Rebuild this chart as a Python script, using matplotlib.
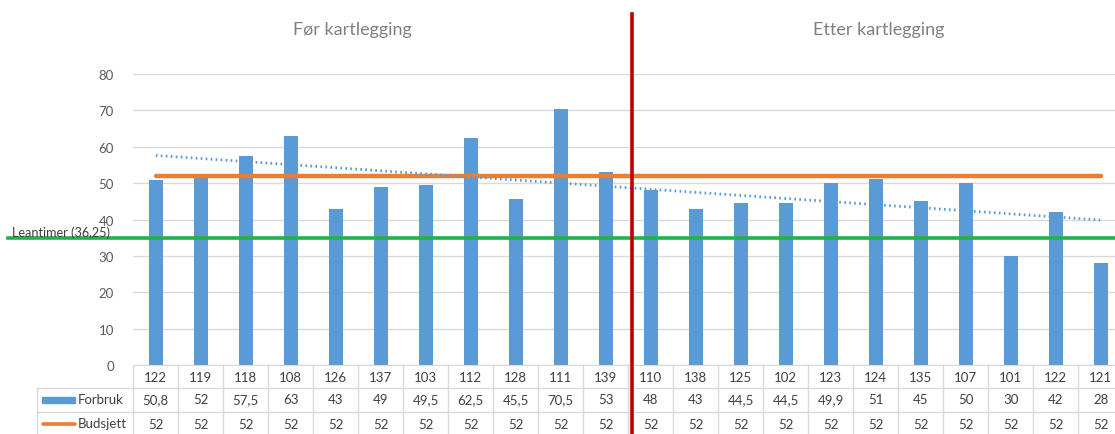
import matplotlib
matplotlib.use("Agg")
import matplotlib.pyplot as plt
import matplotlib.transforms as mtransforms
from matplotlib.lines import Line2D
from matplotlib.patches import Rectangle
import numpy as np

plt.rcParams['font.family'] = ['Lato', 'DejaVu Sans']

categories = ["122", "119", "118", "108", "126", "137", "103", "112", "128", "111", "139",
              "110", "138", "125", "102", "123", "124", "135", "107", "101", "122", "121"]
forbruk = [50.8, 52, 57.5, 63, 43, 49, 49.5, 62.5, 45.5, 70.5, 53,
           48, 43, 44.5, 44.5, 49.9, 51, 45, 50, 30, 42, 28]
budsjett = [52] * 22
forbruk_labels = ["50,8", "52", "57,5", "63", "43", "49", "49,5", "62,5", "45,5", "70,5", "53",
                  "48", "43", "44,5", "44,5", "49,9", "51", "45", "50", "30", "42", "28"]
leantimer = 35.0
leantimer_label = "Leantimer (36,25)"
split_pos = 10.58
titles = ["Før kartlegging", "Etter kartlegging"]

W, H = 1115, 435
fig = plt.figure(figsize=(W / 100, H / 100), dpi=100)
ax_left, col_w = 133.3, 45.0
ax = fig.add_axes([ax_left / W, 1 - 366 / H, col_w * len(categories) / W, (366 - 75) / H])

blue = "#5B9BD5"
orange = "#ED7D31"
green = "#22B14C"
red = "#C00000"
grid = "#D9D9D9"
txt = "#404040"

x = np.arange(len(categories))
ax.bar(x, forbruk, width=0.31, color=blue, zorder=2)
ax.plot(x, budsjett, color=orange, lw=3.2, solid_capstyle='round', zorder=3)
coef = np.polyfit(x, forbruk, 1)
ax.plot(x, np.polyval(coef, x), color=blue, lw=2, ls=(0, (0.6, 1.2)), zorder=3)

ax.set_xlim(-0.5, len(categories) - 0.5)
ax.set_ylim(0, 80)
ax.set_yticks(range(0, 81, 10))
ax.yaxis.grid(True, color=grid, lw=1, zorder=0)
ax.set_xticks([])
for s in ["top", "right", "left"]:
    ax.spines[s].set_visible(False)
ax.spines["bottom"].set_color(grid)
ax.tick_params(axis='y', length=0, labelsize=9.5, labelcolor="#595959", pad=14)

# horizontal lean line across full figure
tr_lean = mtransforms.blended_transform_factory(fig.transFigure, ax.transData)
fig.add_artist(Line2D([8 / W, 1], [leantimer, leantimer], transform=tr_lean, color=green, lw=2.6, zorder=4))
fig.text(12 / W, leantimer + 0.55, leantimer_label, transform=tr_lean,
         fontsize=9.1, color=txt, va='baseline', zorder=6)

# red split line spanning the figure vertically
tr_xdata = mtransforms.blended_transform_factory(ax.transData, fig.transFigure)
fig.add_artist(Line2D([split_pos, split_pos], [0, 1 - 15 / H], transform=tr_xdata, color=red, lw=2.6, zorder=5))

# titles
fig.text(352 / W, 1 - 30 / H, titles[0], ha='center', va='center', fontsize=13, color="#808080")
fig.text(879 / W, 1 - 30 / H, titles[1], ha='center', va='center', fontsize=13, color="#808080")

# data table
tr_tab = mtransforms.blended_transform_factory(ax.transData, fig.transFigure)
tr_fig = fig.transFigure
def fy(py):
    return 1 - py / H

for py in [389, 413]:
    fig.add_artist(Line2D([37 / W, 1], [fy(py)] * 2, transform=tr_fig, color=grid, lw=1))
for k in range(len(categories) + 1):
    xb = k - 0.5
    fig.add_artist(Line2D([xb, xb], [fy(366), 0], transform=tr_tab, color=grid, lw=1))
fig.add_artist(Line2D([37 / W, 37 / W], [fy(389), 0], transform=tr_fig, color=grid, lw=1))

for i, c in enumerate(categories):
    fig.text(i, fy(378), c, transform=tr_tab, ha='center', va='center', fontsize=9.5, color=txt)
    fig.text(i, fy(400.5), forbruk_labels[i], transform=tr_tab, ha='center', va='center', fontsize=9.5, color=txt)
    fig.text(i, fy(425), str(budsjett[i]), transform=tr_tab, ha='center', va='center', fontsize=9.5, color=txt)

fig.add_artist(Rectangle((42 / W, fy(403.5)), 33 / W, 6 / H, transform=tr_fig, color=blue))
fig.add_artist(Line2D([43 / W, 75 / W], [fy(424.5)] * 2, transform=tr_fig, color=orange, lw=2.6, solid_capstyle='round'))
fig.text(78 / W, fy(400), "Forbruk", transform=tr_fig, ha='left', va='center', fontsize=9.5, color=txt)
fig.text(78 / W, fy(424), "Budsjett", transform=tr_fig, ha='left', va='center', fontsize=9.5, color=txt)

fig.savefig("out.png", dpi=100)
